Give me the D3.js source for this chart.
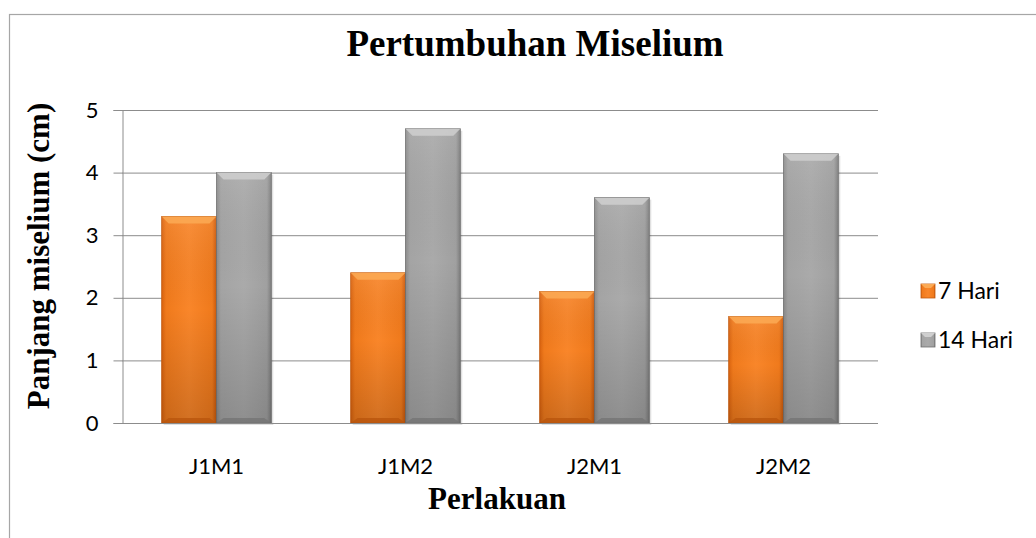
<!DOCTYPE html>
<html>
<head>
<meta charset="utf-8">
<script src="https://cdn.jsdelivr.net/npm/d3@7"></script>
<style>
  body { margin: 0; background: #fff; }
  svg { display: block; }
</style>
</head>
<body>
<svg id="chart" width="1036" height="538"></svg>
<script>
// Data
// ----
const categories = ["J1M1", "J1M2", "J2M1", "J2M2"];
const seriesNames = ["7 Hari", "14 Hari"];
const hari7 = [3.3, 2.4, 2.1, 1.7];
const hari14 = [4.0, 4.7, 3.6, 4.3];
const yTicks = [0, 1, 2, 3, 4, 5];

const svg = d3.select("#chart");
const W = 1036, H = 538;
const plot = { left: 122, right: 878, top: 110, bottom: 423 };
const sans = "Lato, 'Open Sans', sans-serif";
const serif = "'Liberation Serif', 'Times New Roman', serif";

// chart frame
svg.append("rect")
  .attr("x", 9.5).attr("y", 14.5)
  .attr("width", W).attr("height", H)
  .attr("fill", "#fff").attr("stroke", "#a6a6a6").attr("stroke-width", 1.2);

// Gradients (bevel look)
const defs = svg.append("defs");
function grad(id, vertical, stops) {
  const g = defs.append("linearGradient").attr("id", id)
    .attr("x1", "0%").attr("x2", vertical ? "0%" : "100%")
    .attr("y1", "0%").attr("y2", vertical ? "100%" : "0%");
  stops.forEach(s => g.append("stop").attr("offset", s[0]).attr("stop-color", s[1]).attr("stop-opacity", s[2] == null ? 1 : s[2]));
}
grad("gOrange", false, [["0%", "#d9630f"], ["8%", "#f07a1c"], ["50%", "#f9862a"], ["92%", "#f07a1c"], ["100%", "#c9590c"]]);
grad("gGray", false, [["0%", "#8c8c8c"], ["8%", "#a4a4a4"], ["50%", "#aaaaaa"], ["92%", "#a0a0a0"], ["100%", "#7e7e7e"]]);
grad("gShade", true, [["0%", "#fff", 0.08], ["45%", "#000", 0], ["100%", "#000", 0.16]]);
const colors = {
  "7 Hari": { fill: "url(#gOrange)", top: "#fbaa55", edge: "#c15a10", base: "#b9550c" },
  "14 Hari": { fill: "url(#gGray)", top: "#cfcfcf", edge: "#6e6e6e", base: "#747474" }
};

// Scales
const x = d3.scaleBand().domain(categories).range([plot.left, plot.right]).paddingInner(0.42).paddingOuter(0.21);
const xs = d3.scaleBand().domain(seriesNames).range([0, x.bandwidth()]);
const y = d3.scaleLinear().domain([0, 5]).range([plot.bottom, plot.top]);

// Gridlines
svg.append("g").selectAll("line").data(yTicks.filter(d => d > 0)).join("line")
  .attr("x1", plot.left).attr("x2", plot.right)
  .attr("y1", d => y(d) + 0.5).attr("y2", d => y(d) + 0.5)
  .attr("stroke", "#8c8c8c").attr("stroke-width", 1);

// Bars
const rows = categories.map((c, i) => ({ cat: c, vals: [
  { key: "7 Hari", v: hari7[i] }, { key: "14 Hari", v: hari14[i] }] }));

const groups = svg.append("g").selectAll("g").data(rows).join("g")
  .attr("transform", d => `translate(${x(d.cat)},0)`);

groups.each(function(d) {
  const g = d3.select(this);
  d.vals.forEach(b => {
    const bx = xs(b.key), bw = xs.bandwidth();
    const by = y(b.v), bh = y(0) - y(b.v);
    const c = colors[b.key];
    // shadow
    g.append("rect").attr("x", bx + 2).attr("y", by + 2).attr("width", bw).attr("height", bh)
      .attr("fill", "#000").attr("opacity", 0.12);
    g.append("rect").attr("x", bx).attr("y", by).attr("width", bw).attr("height", bh)
      .attr("fill", c.fill).attr("stroke", c.edge).attr("stroke-width", 0.8);
    g.append("rect").attr("x", bx).attr("y", by).attr("width", bw).attr("height", bh)
      .attr("fill", "url(#gShade)");
    // top bevel
    const bev = 7;
    g.append("path")
      .attr("d", `M${bx},${by} L${bx + bw},${by} L${bx + bw - bev},${by + bev} L${bx + bev},${by + bev} Z`)
      .attr("fill", c.top).attr("opacity", 0.85);
    // bottom bevel
    g.append("path")
      .attr("d", `M${bx},${by + bh} L${bx + bw},${by + bh} L${bx + bw - bev},${by + bh - 5} L${bx + bev},${by + bh - 5} Z`)
      .attr("fill", c.base).attr("opacity", 0.8);
  });
});

// Axes
const yAxis = d3.axisLeft(y).tickValues(yTicks).tickSize(9).tickPadding(15).tickFormat(d3.format("d"));
const yg = svg.append("g").attr("transform", `translate(${plot.left + 0.5},0)`).call(yAxis);
yg.select(".domain").attr("stroke", "#8c8c8c");
yg.selectAll(".tick line").attr("stroke", "#8c8c8c");
yg.selectAll(".tick text").attr("font-family", sans).attr("font-size", 22).attr("fill", "#000");

svg.append("line").attr("x1", plot.left).attr("x2", plot.right)
  .attr("y1", plot.bottom + 0.5).attr("y2", plot.bottom + 0.5)
  .attr("stroke", "#8c8c8c").attr("stroke-width", 1.2);

svg.append("g").selectAll("text").data(categories).join("text")
  .attr("x", d => x(d) + x.bandwidth() / 2).attr("y", 474)
  .attr("text-anchor", "middle")
  .attr("font-family", sans).attr("font-size", 22)
  .text(d => d);

// Titles
svg.append("text").attr("x", 535).attr("y", 56).attr("text-anchor", "middle")
  .attr("font-family", serif).attr("font-weight", "bold").attr("font-size", 37)
  .text("Pertumbuhan Miselium");

svg.append("text").attr("x", 497).attr("y", 509).attr("text-anchor", "middle")
  .attr("font-family", serif).attr("font-weight", "bold").attr("font-size", 31)
  .text("Perlakuan");

svg.append("text").attr("transform", "translate(49,256) rotate(-90)").attr("text-anchor", "middle")
  .attr("font-family", serif).attr("font-weight", "bold").attr("font-size", 31)
  .text("Panjang miselium (cm)");

// Legend
const legend = svg.append("g").selectAll("g").data(seriesNames).join("g")
  .attr("transform", (d, i) => `translate(921,${284 + i * 49})`);
legend.append("rect").attr("width", 14).attr("height", 14)
  .attr("fill", d => colors[d].fill).attr("stroke", d => colors[d].edge).attr("stroke-width", 0.8);
legend.append("path").attr("d", "M0,0 L14,0 L10,4 L4,4 Z").attr("fill", d => colors[d].top);
legend.append("text").attr("x", 17).attr("y", 15)
  .attr("font-family", sans).attr("font-size", 23)
  .text(d => d);
</script>
</body>
</html>
